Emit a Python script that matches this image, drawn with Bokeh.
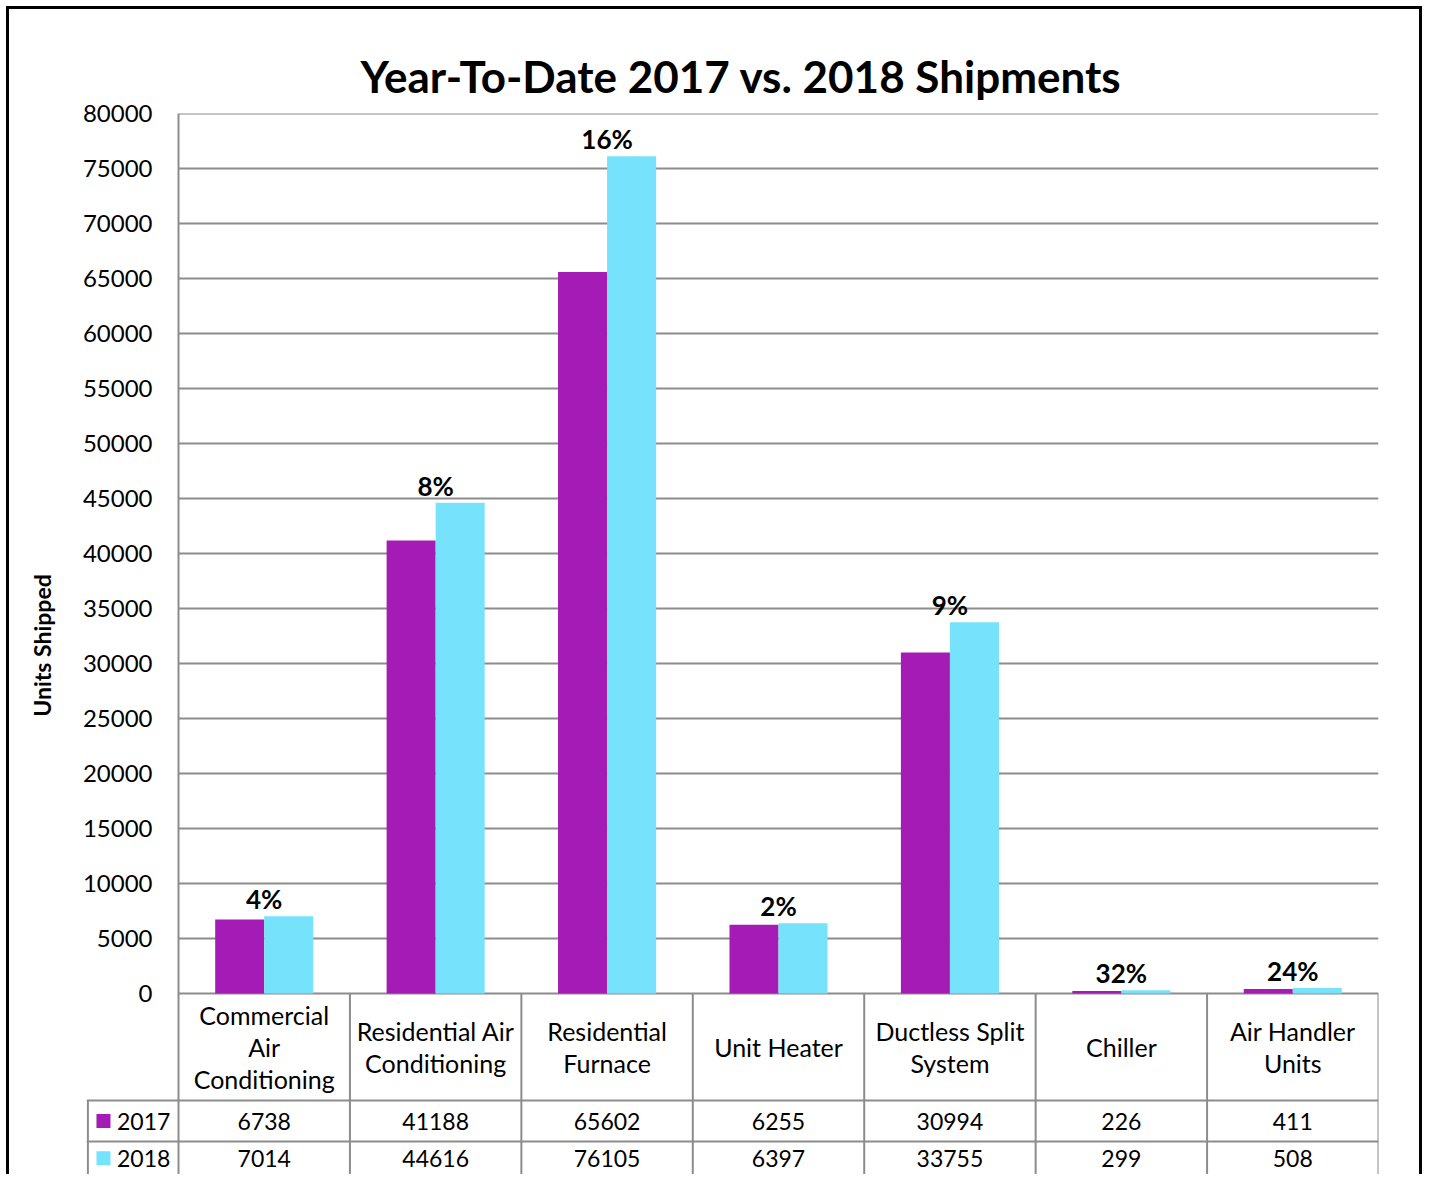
from bokeh.plotting import figure
from bokeh.models import FixedTicker, ColumnDataSource
from bokeh.core.properties import value
from bokeh.embed import file_html
from bokeh.resources import INLINE

# ---------------- data ----------------
categories = ["Commercial\nAir\nConditioning", "Residential Air\nConditioning",
              "Residential\nFurnace", "Unit Heater", "Ductless Split\nSystem",
              "Chiller", "Air Handler\nUnits"]
series_names = ["2017", "2018"]
shipments_2017 = [6738, 41188, 65602, 6255, 30994, 226, 411]
shipments_2018 = [7014, 44616, 76105, 6397, 33755, 299, 508]
y_ticks = list(range(0, 80001, 5000))
title_text = "Year-To-Date 2017 vs. 2018 Shipments"
y_label = "Units Shipped"

# ---------------- style ----------------
PURPLE = "#A51BB5"
CYAN = "#77E2FB"
GRID = "#8C8C8C"
FONT = "Lato"

n = len(categories)
Y_TOP = 80000
Y_BOT = -16727          # table area below the zero line
X_LEFT = -0.5367        # legend column of the data table
HDR = -9727             # bottom of the category header row
ROW1 = -13455           # bottom of the 2017 row
BAR_W = 0.286

p = figure(width=1416, height=1168, output_backend="svg", toolbar_location=None,
           x_range=(X_LEFT, n), y_range=(Y_BOT, Y_TOP),
           min_border_left=77, min_border_right=47, min_border_top=104,
           min_border_bottom=0, tools="")
p.styles = {"margin-left": "6px", "margin-top": "6px",
            "border-top": "3px solid black", "border-left": "3px solid black",
            "border-right": "3px solid black"}
p.outline_line_color = None
p.xaxis.visible = False
p.xgrid.visible = False
p.ygrid.visible = False
p.background_fill_color = "white"
p.border_fill_color = "white"

# title
p.title.text = title_text
p.title.text_font = FONT
p.title.text_font_size = "44px"
p.title.text_font_style = "bold"
p.title.align = "left"
p.title.offset = 274
p.title.text_color = "black"
p.title.standoff = 23

# y axis
ax = p.yaxis[0]
ax.ticker = FixedTicker(ticks=y_ticks)
ax.axis_line_color = None
ax.major_tick_line_color = None
ax.minor_tick_line_color = None
ax.major_label_standoff = -72
ax.major_label_text_font = FONT
ax.major_label_text_font_size = "24px"
ax.major_label_text_color = "black"
ax.axis_label = y_label
ax.axis_label_text_font = FONT
ax.axis_label_text_font_size = "23px"
ax.axis_label_text_font_style = "bold"
ax.axis_label_text_color = "black"
ax.axis_label_standoff = 24

# gridlines (plot area only)
p.segment(x0=[0] * len(y_ticks), x1=[n] * len(y_ticks), y0=y_ticks, y1=y_ticks,
          line_color=GRID, line_width=2)

# bars
centers = [i + 0.5 for i in range(n)]
src = ColumnDataSource(dict(
    x17=[c - BAR_W / 2 for c in centers], x18=[c + BAR_W / 2 for c in centers],
    v17=shipments_2017, v18=shipments_2018))
p.vbar(x="x17", top="v17", bottom=0, width=BAR_W, source=src,
       fill_color=PURPLE, line_color=None)
p.vbar(x="x18", top="v18", bottom=0, width=BAR_W, source=src,
       fill_color=CYAN, line_color=None)

# percentage change labels
pct = [f"{round((b - a) / a * 100)}%" for a, b in zip(shipments_2017, shipments_2018)]
p.text(x=centers, y=[max(a, b) for a, b in zip(shipments_2017, shipments_2018)],
       text=pct, text_align="center", text_baseline="bottom", y_offset=-1,
       text_font=value(FONT), text_font_style="bold", text_font_size="26px",
       text_color="black")

# data table lines
vx = list(range(1, n + 1))
p.segment(x0=vx, x1=vx, y0=[0] * n, y1=[Y_BOT * 1.2] * n, line_color=GRID, line_width=2)
p.segment(x0=[0], x1=[0], y0=[Y_TOP], y1=[Y_BOT * 1.2], line_color=GRID, line_width=2)
p.segment(x0=[X_LEFT + 0.008], x1=[X_LEFT + 0.008], y0=[HDR], y1=[Y_BOT * 1.2],
          line_color=GRID, line_width=2)
p.segment(x0=[X_LEFT, X_LEFT], x1=[n, n], y0=[HDR, ROW1], y1=[HDR, ROW1],
          line_color=GRID, line_width=2)

# category header texts
p.text(x=centers, y=[HDR / 2] * n, text=categories, text_align="center",
       text_baseline="middle", text_font=value(FONT), text_font_size="25px",
       text_line_height=1.06, text_color="black")

# data rows (second row sits against the bottom edge of the picture)
row_y = [(HDR + ROW1) / 2, ROW1 + (ROW1 - HDR) / 2 + 350]
for vals, yy, name, col in [(shipments_2017, row_y[0], series_names[0], PURPLE),
                            (shipments_2018, row_y[1], series_names[1], CYAN)]:
    p.text(x=centers, y=[yy] * n, text=[str(v) for v in vals], text_align="center",
           text_baseline="middle", text_font=value(FONT), text_font_size="23px",
           text_color="black")
    p.rect(x=[X_LEFT + 0.099], y=[yy], width=14, height=14, width_units="screen",
           height_units="screen", fill_color=col, line_color=None)
    p.text(x=[X_LEFT + 0.178], y=[yy], text=[name], text_align="left",
           text_baseline="middle", text_font=value(FONT), text_font_size="23px",
           text_color="black")

open("out.html", "w").write(file_html(p, INLINE))
